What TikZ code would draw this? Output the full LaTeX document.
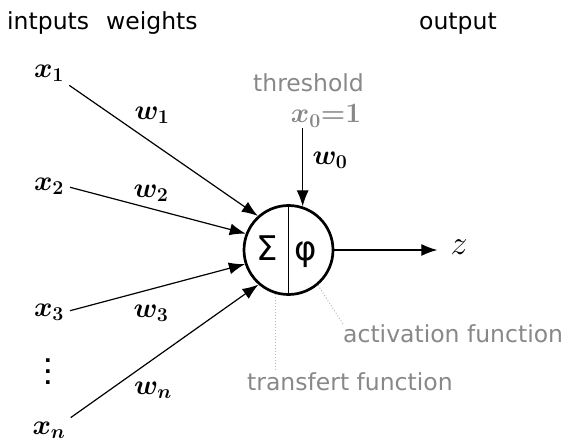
\documentclass[tikz,border=0pt]{standalone}
\usepackage{fix-cm}
\usepackage{amsmath,amssymb}
\usepackage{bm}
\usepackage{fontspec}
\setmainfont{DejaVu Sans}
\usepackage{tikz}
\usetikzlibrary{positioning,arrows.meta,calc}
\usepackage{xcolor}
\definecolor{annot}{HTML}{888888}
\newcommand{\tallvdots}{\vbox{\baselineskip=11pt\lineskiplimit=0pt\hbox{.}\hbox{.}\hbox{.}}}
\tikzset{
  lbl/.style={font=\fontsize{23.5}{28}\selectfont, inner sep=0pt},
  note/.style={lbl, text=annot},
  var/.style={font=\fontsize{28}{30}\selectfont, inner sep=1pt},
  neuron/.style={circle, draw, line width=2.7pt, minimum size=89pt, inner sep=0pt},
  sym/.style={font=\fontsize{34}{36}\selectfont, inner sep=0pt, anchor=base},
  arr/.style={-{Latex[length=16pt, width=12pt]}, line width=1.2pt},
  guide/.style={dotted, draw=gray!55, line width=1pt},
}

\begin{document}
\begin{tikzpicture}[x=1pt, y=-1pt]
    \useasboundingbox (0,0) rectangle (567,443);
    % headers
    \node[lbl, anchor=base west] (hin) at (7,30) {intputs};
    \node[lbl, anchor=base west] (hw) at (106,30) {weights};
    \node[lbl, anchor=base west] (hout) at (419,30) {output};
    % inputs
    \node[var] (x1) at (49,73) {$\bm{x_1}$};
    \node[var] (x2) at (49,186) {$\bm{x_2}$};
    \node[var] (x3) at (49,312) {$\bm{x_3}$};
    \node[var, font=\fontsize{20}{20}\bfseries] (dots) at (48,372) {\tallvdots};
    \node[var] (xn) at (49,430) {$\bm{x_n}$};
    % neuron
    \node[neuron] (nrn) at (288.5,250) {};
    \draw[line width=1.2pt] (nrn.north) -- (nrn.south);
    \node[sym] (sig) at (267,261) {Σ};
    \node[sym] (phi) at (306,261) {φ};
    % threshold
    \node[note, anchor=base west] (thr) at (253,92) {threshold};
    \node[var, text=annot] (x0) at (326,116) {$\bm{x_0{=}1}$};
    \node[var] (w0) at (330,160) {$\bm{w_0}$};
    % weights
    \node[var] (w1) at (152,115) {$\bm{w_1}$};
    \node[var] (w2) at (151,193) {$\bm{w_2}$};
    \node[var] (w3) at (151,313) {$\bm{w_3}$};
    \node[var] (wn) at (153,390) {$\bm{w_n}$};
    % output
    \node[var, font=\fontsize{34}{36}\selectfont] (z) at (459,247) {$z$};
    % annotations
    \node[note, anchor=base west] (tf) at (247,390) {transfert function};
    \node[note, anchor=base west] (af) at (343,342) {activation function};
    \draw[arr, shorten <=5pt] (x1.south east) -- (nrn.132);
    \draw[arr, shorten <=5pt] (x2.east) -- (nrn.159);
    \draw[arr, shorten <=5pt] (x3.east) -- (nrn.198);
    \draw[arr, shorten <=5pt] (xn.north east) -- (nrn.229);
    \draw[arr] (x0.south -| nrn.72) -- (nrn.72);
    \draw[arr, shorten >=12pt] (nrn.east) -- (nrn.east -| z.west);
    \draw[guide] (nrn.254) -- (nrn.254 |- tf.north);
    \draw[guide] (nrn.310) -- (af.north west);
  \end{tikzpicture}
\end{document}
